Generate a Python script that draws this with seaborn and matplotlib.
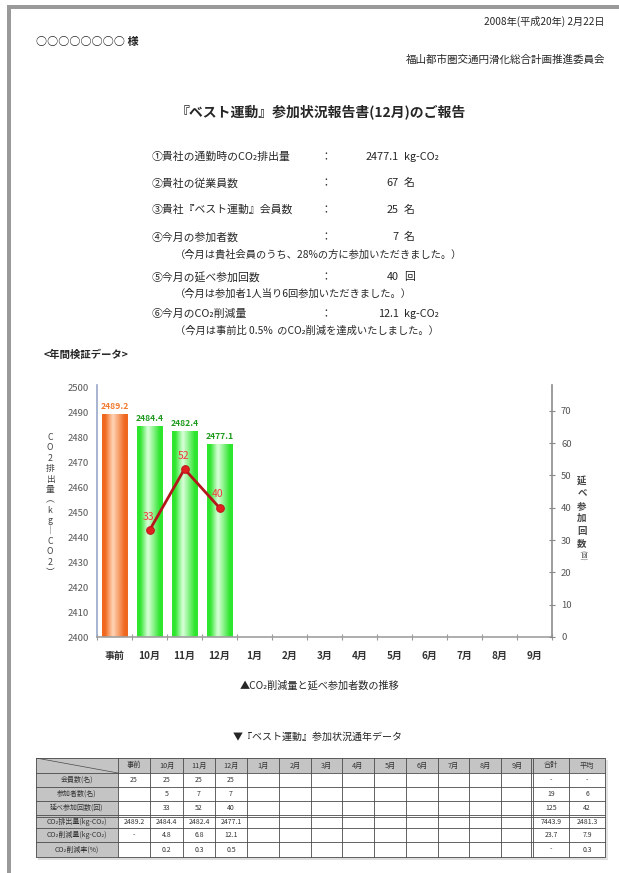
import numpy as np
import pandas as pd
import matplotlib
matplotlib.use("Agg")
import matplotlib.pyplot as plt
import seaborn as sns
from matplotlib.patches import Rectangle
from matplotlib.lines import Line2D
from matplotlib.colors import LinearSegmentedColormap

sns.set_theme(style="white")
plt.rcParams['font.family'] = ['Noto Sans CJK JP', 'DejaVu Sans']

# ---- data -------------------------------------------------------------
months = ["事前", "10月", "11月", "12月", "1月", "2月", "3月",
          "4月", "5月", "6月", "7月", "8月", "9月"]
co2_months = ["事前", "10月", "11月", "12月"]
co2_emission = [2489.2, 2484.4, 2482.4, 2477.1]
visit_months = ["10月", "11月", "12月"]
visit_counts = [33, 52, 40]
members = [25, 25, 25, 25]
participants = [None, 5, 7, 7]
employees = 67

row_labels = ["会員数(名)", "参加者数(名)", "延べ参加回数(回)",
              "CO₂排出量(kg-CO₂)", "CO₂削減量(kg-CO₂)", "CO₂削減率(%)"]
left_ticks = [2400, 2410, 2420, 2430, 2440, 2450, 2460, 2470, 2480, 2490, 2500]
right_ticks = [0, 10, 20, 30, 40, 50, 60, 70]

# ---- page geometry (pixels) ------------------------------------------
W, H = 619, 873
TXT = "#262626"


def fx(x):
    return x / W


def fy(y):
    return 1 - y / H


fig = plt.figure(figsize=(W / 100, H / 100), dpi=100)
fig.patch.set_facecolor("white")

# page frame
fig.add_artist(Rectangle((fx(7), fy(9)), fx(619) - fx(7), 4 / H,
                         transform=fig.transFigure, color="#9a9a9a", lw=0))
fig.add_artist(Rectangle((fx(7), 0), 4 / W, fy(5),
                         transform=fig.transFigure, color="#9a9a9a", lw=0))

# ---- header ----------------------------------------------------------
fig.text(fx(605), fy(21), "2008年(平成20年) 2月22日", ha="right", va="center",
         fontsize=7.3, color=TXT)
fig.text(fx(36), fy(42), "○○○○○○○○ 様", ha="left", va="center",
         fontsize=8, color=TXT, fontweight="bold")
fig.text(fx(605), fy(60), "福山都市圏交通円滑化総合計画推進委員会", ha="right",
         va="center", fontsize=7.6, color=TXT)
fig.text(fx(321), fy(112), "『ベスト運動』参加状況報告書(12月)のご報告",
         ha="center", va="center", fontsize=10, color=TXT, fontweight="bold")

# ---- summary items ---------------------------------------------------
base = co2_emission[0]
latest = co2_emission[-1]
reduction = [base - v for v in co2_emission]
rates = [r / base * 100 for r in reduction]
cur_part = participants[-1]
cur_visits = visit_counts[-1]

items = [
    (157, "①貴社の通勤時のCO₂排出量", f"{latest:.1f}", "kg-CO₂", None),
    (183, "②貴社の従業員数", f"{employees}", "名", None),
    (210, "③貴社『ベスト運動』会員数", f"{members[-1]}", "名", None),
    (237, "④今月の参加者数", f"{cur_part}", "名",
     f"（今月は貴社会員のうち、{round(cur_part / members[-1] * 100)}%の方に参加いただきました。）"),
    (277, "⑤今月の延べ参加回数", f"{cur_visits}", "回",
     f"（今月は参加者1人当り{round(cur_visits / cur_part)}回参加いただきました。）"),
    (314, "⑥今月のCO₂削減量", f"{reduction[-1]:.1f}", "kg-CO₂",
     f"（今月は事前比 {rates[-1]:.1f}%  のCO₂削減を達成いたしました。）"),
]
for y, lab, val, unit, note in items:
    fig.text(fx(152), fy(y), lab, ha="left", va="center", fontsize=7.8, color=TXT)
    fig.text(fx(326), fy(y), "：", ha="center", va="center", fontsize=7.8, color=TXT)
    fig.text(fx(399), fy(y), val, ha="right", va="center", fontsize=7.8, color=TXT)
    fig.text(fx(404), fy(y), unit, ha="left", va="center", fontsize=7.8, color=TXT)
    if note:
        fig.text(fx(175), fy(y + 17), note, ha="left", va="center",
                 fontsize=7.4, color=TXT)

fig.text(fx(44), fy(355), "<年間検証データ>", ha="left", va="center",
         fontsize=7.5, color=TXT, fontweight="bold")

# ---- chart -----------------------------------------------------------
ax = fig.add_axes([fx(97), fy(637), fx(552) - fx(97), (637 - 385) / H])
df = pd.DataFrame({"month": co2_months, "co2": co2_emission})
edge_cols = {m: ("#f0681f" if m == "事前" else "#2fe62f") for m in co2_months}
sns.barplot(data=df, x="month", y="co2", order=months, hue="month",
            palette=edge_cols, legend=False, width=0.72, saturation=1,
            ax=ax, zorder=2)
ax.set_xlim(-0.5, len(months) - 0.5)
ax.set_ylim(left_ticks[0], left_ticks[-1] + 0.8)

# cylinder-like shading inside each bar
bars = sorted(ax.patches, key=lambda p: p.get_x())
light = {"事前": "#ffd6b8", "other": "#dcffdc"}
for patch, m in zip(bars, co2_months):
    edge = edge_cols[m]
    mid = light["事前"] if m == "事前" else light["other"]
    cmap = LinearSegmentedColormap.from_list(
        "shade", [(0, edge), (0.12, edge), (0.42, mid), (0.88, edge), (1, edge)])
    grad = cmap(np.linspace(0, 1, 64))[np.newaxis, :, :3]
    x0, w, h = patch.get_x(), patch.get_width(), patch.get_height()
    im = ax.imshow(grad, extent=(x0, x0 + w, ax.get_ylim()[0], h),
                   aspect="auto", interpolation="bicubic", zorder=2.5)
    im.set_clip_path(patch)
ax.set_xlim(-0.5, len(months) - 0.5)
ax.set_ylim(left_ticks[0], left_ticks[-1] + 0.8)
ax.set_aspect("auto")

for patch, m, v in zip(bars, co2_months, co2_emission):
    ax.annotate(f"{v:.1f}", (patch.get_x() + patch.get_width() / 2, v),
                xytext=(0, 2.5), textcoords="offset points", ha="center",
                va="bottom", fontsize=6.2, fontweight="bold",
                color="#f07a30" if m == "事前" else "#1f9a1f", zorder=4)

ax.set_yticks(left_ticks)
ax.set_xticks(range(len(months)))
ax.set_xticklabels(months)
ax.set_xticks(np.arange(-0.5, len(months), 1), minor=True)
ax.tick_params(axis="y", which="both", left=False, length=0, labelsize=6.8,
               labelcolor="#555555", pad=6)
ax.tick_params(axis="x", which="major", bottom=False, length=0, labelsize=7.2,
               labelcolor="#333333", pad=10)
ax.tick_params(axis="x", which="minor", bottom=True, direction="inout",
               length=4, width=0.8, color="#999999")
for lab in ax.get_xticklabels():
    lab.set_fontweight("bold")
ax.set_xlabel("")
ax.set_ylabel("")
ax.spines["top"].set_visible(False)
ax.spines["right"].set_visible(False)
ax.spines["left"].set_color("#9aa8c8")
ax.spines["left"].set_linewidth(1.2)
ax.spines["bottom"].set_color("#a0a0a0")
ax.spines["bottom"].set_linewidth(1.2)

ax2 = ax.twinx()
pos = [months.index(m) for m in visit_months]
sns.lineplot(x=pos, y=visit_counts, ax=ax2, color="#b3161b", lw=2,
             marker="o", markersize=5.5, markerfacecolor="#e0201f",
             markeredgecolor="#c0151a", zorder=5)
ax2.set_ylim(0, 78)
ax2.set_yticks(right_ticks)
ax2.set_xlim(-0.5, len(months) - 0.5)
ax2.tick_params(axis="y", right=True, direction="inout", length=5, width=0.8,
                color="#888888", labelsize=6.8, labelcolor="#555555", pad=4)
for s in ("top", "left", "bottom"):
    ax2.spines[s].set_visible(False)
ax2.spines["right"].set_color("#8c8c8c")
ax2.spines["right"].set_linewidth(1.2)
ax2.set_ylabel("")
for xp, v in zip(pos, visit_counts):
    ax2.annotate(f"{v}", (xp, v), xytext=(-1, 6), textcoords="offset points",
                 ha="center", va="bottom", fontsize=7.5, color="#f03a3a",
                 zorder=6)

# stacked axis titles
left_title = ["C", "O", "2", "排", "出", "量", "︵", "k", "g", "｜", "C", "O", "2", "︶"]
fig.text(fx(50), fy(505), "\n".join(left_title), ha="center", va="center",
         fontsize=6.3, linespacing=1.2, color="#444444")
fig.text(fx(582), fy(512), "\n".join(list("延べ参加回数")), ha="center",
         va="center", fontsize=6.8, linespacing=1.3, color="#444444",
         fontweight="bold")
fig.text(fx(582), fy(555), "(回)", ha="center", va="center", fontsize=4.5,
         rotation=-90, color="#555555")

# ---- captions --------------------------------------------------------
fig.text(fx(320), fy(686), "▲CO₂削減量と延べ参加者数の推移", ha="center",
         va="center", fontsize=7.3, color=TXT)
fig.text(fx(318), fy(737), "▼『ベスト運動』参加状況通年データ", ha="center",
         va="center", fontsize=7.2, color=TXT)

# ---- yearly table ----------------------------------------------------
col_edges = [36, 118, 150, 183, 215, 247, 279, 311, 342, 374, 406, 438,
             469, 501, 533, 569, 605]
row_edges = [758, 773, 787, 801, 815, 828, 842, 857]
tax = fig.add_axes([fx(36), fy(860), fx(608) - fx(36), (860 - 758) / H])
tax.set_xlim(36, 608)
tax.set_ylim(860, 758)
tax.axis("off")

# shadow, shaded header row and label column
tax.add_patch(Rectangle((38, 857), 570, 3, color="#dedede", lw=0))
tax.add_patch(Rectangle((605, 760), 3, 99, color="#e4e4e4", lw=0))
tax.add_patch(Rectangle((36, 758), 569, 15, color="#c4c4c4", lw=0))
tax.add_patch(Rectangle((36, 758), 82, 99, color="#c4c4c4", lw=0))

grid = dict(color="#4a4a4a", lw=0.6)
for y in row_edges:
    tax.add_line(Line2D([36, 605], [y, y], **grid))
for x in col_edges:
    tax.add_line(Line2D([x, x], [758, 857], **grid))
tax.add_line(Line2D([36, 605], [816.5, 816.5], **grid))
tax.add_line(Line2D([531, 531], [758, 857], **grid))
tax.add_line(Line2D([36, 118], [758, 773], color="#4a4a4a", lw=0.5))


def fmt1(v):
    return f"{v:.1f}"


n_used = len(co2_months)
row_vals = [
    [str(v) for v in members],
    ["" if v is None else str(v) for v in participants],
    [""] + [str(v) for v in visit_counts],
    [fmt1(v) for v in co2_emission],
    ["-"] + [fmt1(v) for v in reduction[1:]],
    [""] + [fmt1(v) for v in rates[1:]],
]
part_vals = [v for v in participants if v is not None]
totals = ["-", str(sum(part_vals)), str(sum(visit_counts)),
          fmt1(sum(co2_emission[1:])), fmt1(sum(reduction[1:])), "-"]
avgs = ["-", str(round(np.mean(part_vals))), str(round(np.mean(visit_counts))),
        fmt1(np.mean(co2_emission[1:])), fmt1(np.mean(reduction[1:])),
        fmt1(np.mean(rates[1:]))]

headers = months + ["合計", "平均"]
for j, hd in enumerate(headers):
    cx = (col_edges[j + 1] + col_edges[j + 2]) / 2
    tax.text(cx, 765.5, hd, ha="center", va="center", fontsize=5.2, color="#333333")
for i, lab in enumerate(row_labels):
    cy = (row_edges[i + 1] + row_edges[i + 2]) / 2
    tax.text(77, cy, lab, ha="center", va="center", fontsize=5.0, color="#333333")
    cells = row_vals[i] + [""] * (len(months) - n_used) + [totals[i], avgs[i]]
    for j, s in enumerate(cells):
        if s:
            cx = (col_edges[j + 1] + col_edges[j + 2]) / 2
            tax.text(cx, cy, s, ha="center", va="center", fontsize=5.0,
                     color="#333333")

fig.savefig("out.png", dpi=100, facecolor="white")
